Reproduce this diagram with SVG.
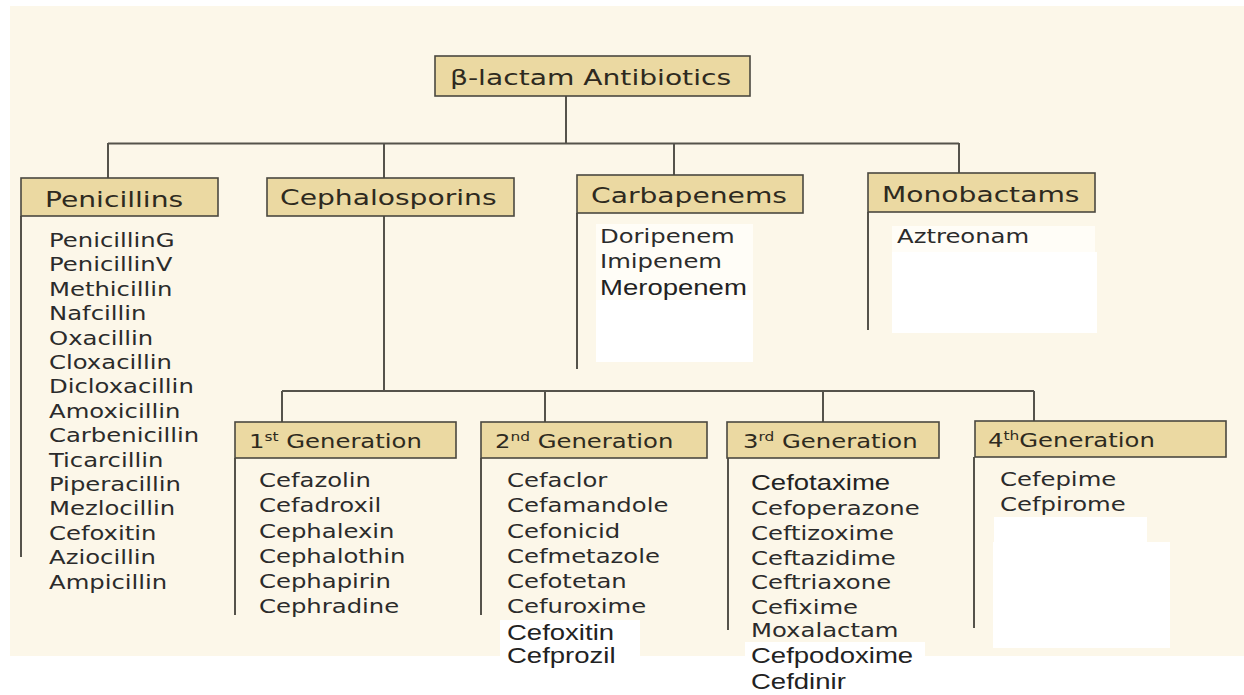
<svg xmlns="http://www.w3.org/2000/svg" width="1244" height="695" viewBox="0 0 1244 695">
<style>
.bg{fill:#fcf7e9}
.wp{fill:#ffffff}
.box{fill:#ebd9a2;stroke:#4a4840;stroke-width:1.6}
.conn line{stroke:#55534b;stroke-width:2;fill:none}
.hdr{font-family:"DejaVu Sans",Verdana,sans-serif;font-size:22px;fill:#2e2a20}
.gen{font-family:"DejaVu Sans",Verdana,sans-serif;font-size:19px;fill:#2e2a20}
.item{font-family:"DejaVu Sans",Verdana,sans-serif;font-size:19px;fill:#2b2b2b}
.ar{font-family:"Liberation Sans",Arial,sans-serif;font-size:21.5px;fill:#222}
.sup{font-size:12px}
</style>
<rect width="1244" height="695" fill="#ffffff"/>
<rect class="bg" x="10" y="6" width="1234" height="650"/>
<rect x="596" y="224" width="157" height="138" fill="#fffdf7"/>
<rect class="wp" x="596" y="300" width="157" height="62"/>
<rect x="892" y="226" width="203" height="26" fill="#fffdf7"/>
<rect class="wp" x="892" y="252" width="205" height="81"/>
<rect class="wp" x="994" y="517" width="153" height="26"/>
<rect class="wp" x="993" y="542" width="177" height="106"/>
<rect class="wp" x="500" y="620" width="140" height="36"/>
<rect class="wp" x="745" y="642" width="180" height="14"/>

<g id="connectors" class="conn">
<line x1="566" y1="96" x2="566" y2="143"/>
<line x1="108" y1="143.5" x2="959" y2="143.5"/>
<line x1="108" y1="143" x2="108" y2="178"/>
<line x1="384" y1="143" x2="384" y2="178"/>
<line x1="674" y1="143" x2="674" y2="175"/>
<line x1="959" y1="143" x2="959" y2="173"/>
<line x1="21" y1="216" x2="21" y2="557"/>
<line x1="577" y1="213" x2="577" y2="369"/>
<line x1="868" y1="212" x2="868" y2="330"/>
<line x1="384" y1="216" x2="384" y2="391"/>
<line x1="282" y1="391" x2="1034" y2="391"/>
<line x1="282" y1="391" x2="282" y2="422"/>
<line x1="545" y1="391" x2="545" y2="422"/>
<line x1="823" y1="391" x2="823" y2="422"/>
<line x1="1034" y1="391" x2="1034" y2="421"/>
<line x1="235" y1="458" x2="235" y2="615"/>
<line x1="481" y1="458" x2="481" y2="615"/>
<line x1="728" y1="458" x2="728" y2="630"/>
<line x1="974" y1="457" x2="974" y2="628"/>
</g>

<g id="root">
<rect class="box" x="435" y="56" width="315" height="40"/>
<text class="hdr" transform="translate(450,85) scale(1.28,1)">β-lactam Antibiotics</text>
</g>

<g id="penicillins">
<rect class="box" x="21" y="178" width="197" height="38"/>
<text class="hdr" transform="translate(45,207) scale(1.28,1)">Penicillins</text>
<g class="item" transform="translate(49,0) scale(1.28,1)">
<text y="247">PenicillinG</text>
<text y="271.4">PenicillinV</text>
<text y="295.8">Methicillin</text>
<text y="320.2">Nafcillin</text>
<text y="344.6">Oxacillin</text>
<text y="369">Cloxacillin</text>
<text y="393.4">Dicloxacillin</text>
<text y="417.8">Amoxicillin</text>
<text y="442.2">Carbenicillin</text>
<text y="466.6">Ticarcillin</text>
<text y="491">Piperacillin</text>
<text y="515.4">Mezlocillin</text>
<text y="539.8">Cefoxitin</text>
<text y="564.2">Aziocillin</text>
<text y="588.6">Ampicillin</text>
</g>
</g>

<g id="cephalosporins">
<rect class="box" x="267" y="178" width="247" height="38"/>
<text class="hdr" transform="translate(280,205) scale(1.28,1)">Cephalosporins</text>
</g>

<g id="carbapenems">
<rect class="box" x="577" y="175" width="226" height="38"/>
<text class="hdr" transform="translate(591,203) scale(1.28,1)">Carbapenems</text>
<g transform="translate(600,0) scale(1.28,1)">
<text class="item" y="243">Doripenem</text>
<text class="item" y="268">Imipenem</text>
<text class="ar" y="295">Meropenem</text>
</g>
</g>

<g id="monobactams">
<rect class="box" x="868" y="173" width="227" height="39"/>
<text class="hdr" transform="translate(882,202) scale(1.28,1)">Monobactams</text>
<text class="item" transform="translate(897,243) scale(1.28,1)">Aztreonam</text>
</g>

<g id="gen1">
<rect class="box" x="235" y="422" width="221" height="36"/>
<text class="gen" transform="translate(249,448) scale(1.28,1)">1<tspan class="sup" dy="-7">st</tspan><tspan dy="7"> Generation</tspan></text>
<g class="item" transform="translate(259,0) scale(1.28,1)">
<text y="487">Cefazolin</text>
<text y="512.5">Cefadroxil</text>
<text y="538">Cephalexin</text>
<text y="563">Cephalothin</text>
<text y="588">Cephapirin</text>
<text y="613">Cephradine</text>
</g>
</g>

<g id="gen2">
<rect class="box" x="481" y="422" width="226" height="36"/>
<text class="gen" transform="translate(495,448) scale(1.28,1)">2<tspan class="sup" dy="-7">nd</tspan><tspan dy="7"> Generation</tspan></text>
<g transform="translate(507,0) scale(1.28,1)">
<text class="item" y="487">Cefaclor</text>
<text class="item" y="512.5">Cefamandole</text>
<text class="item" y="538">Cefonicid</text>
<text class="item" y="563">Cefmetazole</text>
<text class="item" y="588">Cefotetan</text>
<text class="item" y="613">Cefuroxime</text>
<text class="ar" y="640">Cefoxitin</text>
<text class="ar" y="663">Cefprozil</text>
</g>
</g>

<g id="gen3">
<rect class="box" x="727" y="422" width="212" height="36"/>
<text class="gen" transform="translate(743,448) scale(1.28,1)">3<tspan class="sup" dy="-7">rd</tspan><tspan dy="7"> Generation</tspan></text>
<g transform="translate(751,0) scale(1.28,1)">
<text class="ar" y="490">Cefotaxime</text>
<text class="item" y="515">Cefoperazone</text>
<text class="item" y="540">Ceftizoxime</text>
<text class="item" y="565">Ceftazidime</text>
<text class="item" y="589">Ceftriaxone</text>
<text class="item" y="614">Cefixime</text>
<text class="item" y="637">Moxalactam</text>
<text class="ar" y="663">Cefpodoxime</text>
<text class="ar" y="689">Cefdinir</text>
</g>
</g>

<g id="gen4">
<rect class="box" x="975" y="421" width="251" height="36"/>
<text class="gen" transform="translate(988,447) scale(1.28,1)">4<tspan class="sup" dy="-7">th</tspan><tspan dy="7">Generation</tspan></text>
<g class="item" transform="translate(1000,0) scale(1.28,1)">
<text y="486">Cefepime</text>
<text y="511.5">Cefpirome</text>
</g>
</g>
</svg>
